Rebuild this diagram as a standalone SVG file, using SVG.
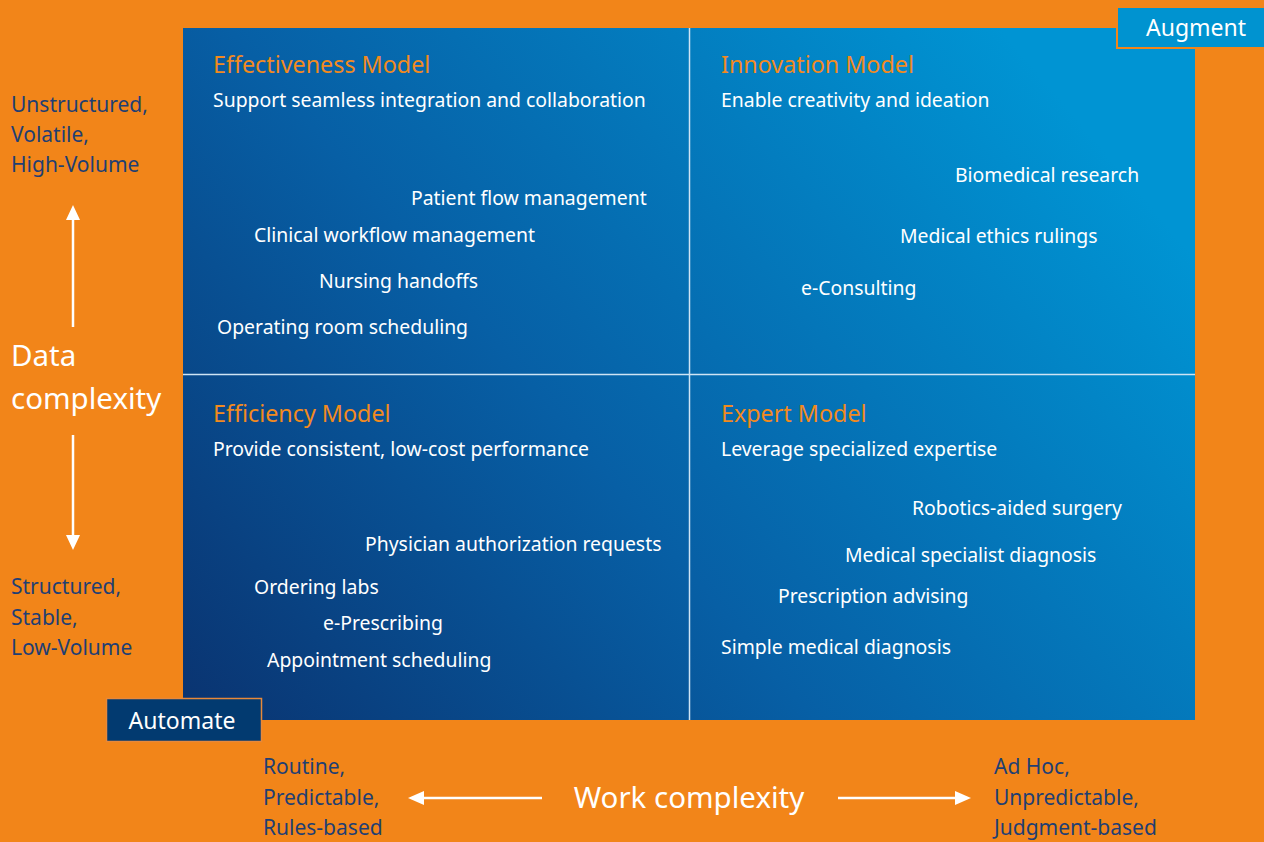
<svg xmlns="http://www.w3.org/2000/svg" width="1264" height="842" viewBox="0 0 1264 842">
<defs>
<linearGradient id="pg" gradientUnits="userSpaceOnUse" x1="183" y1="720" x2="1000" y2="28">
<stop offset="0" stop-color="#0a3370"/>
<stop offset="0.45" stop-color="#075fa5"/>
<stop offset="1" stop-color="#0094d3"/>
</linearGradient>
<style>
text{font-family:"Noto Sans","Liberation Sans",sans-serif}
.t{fill:#f28a1e;font-size:23.3px}
.s{fill:#ffffff;font-size:19.4px}
.i{fill:#ffffff;font-size:19.4px}
.n{fill:#1f3f73;font-size:21px}
.big{fill:#ffffff;font-size:29.5px}
.ar{stroke:#ffffff;stroke-width:2.5;fill:none}
.hd{fill:#ffffff}
</style>
</defs>
<rect width="1264" height="842" fill="#f28519"/>
<g id="panel">
<rect x="183" y="28" width="1012" height="692" fill="url(#pg)"/>
<line x1="689.5" y1="28" x2="689.5" y2="720" stroke="#cfe4f4" stroke-width="1.5"/>
<line x1="183" y1="374.5" x2="1195" y2="374.5" stroke="#cfe4f4" stroke-width="1.5"/>
</g>
<g id="effectiveness">
<text class="t" x="213" y="73">Effectiveness Model</text>
<text class="s" x="213" y="107">Support seamless integration and collaboration</text>
<text class="i" x="411" y="205">Patient flow management</text>
<text class="i" x="254" y="242">Clinical workflow management</text>
<text class="i" x="319" y="288">Nursing handoffs</text>
<text class="i" x="217" y="334">Operating room scheduling</text>
</g>
<g id="innovation">
<text class="t" x="721" y="73">Innovation Model</text>
<text class="s" x="721" y="107">Enable creativity and ideation</text>
<text class="i" x="955" y="182">Biomedical research</text>
<text class="i" x="900" y="243">Medical ethics rulings</text>
<text class="i" x="801" y="295">e-Consulting</text>
</g>
<g id="efficiency">
<text class="t" x="213" y="422">Efficiency Model</text>
<text class="s" x="213" y="456">Provide consistent, low-cost performance</text>
<text class="i" x="365" y="551">Physician authorization requests</text>
<text class="i" x="254" y="594">Ordering labs</text>
<text class="i" x="323" y="630">e-Prescribing</text>
<text class="i" x="267" y="667">Appointment scheduling</text>
</g>
<g id="expert">
<text class="t" x="721" y="422">Expert Model</text>
<text class="s" x="721" y="456">Leverage specialized expertise</text>
<text class="i" x="912" y="515">Robotics-aided surgery</text>
<text class="i" x="845" y="562">Medical specialist diagnosis</text>
<text class="i" x="778" y="603">Prescription advising</text>
<text class="i" x="721" y="654">Simple medical diagnosis</text>
</g>
<g id="augment">
<rect x="1117" y="7" width="150" height="41" fill="#0093d0" stroke="#f28519" stroke-width="2"/>
<text x="1196" y="36" text-anchor="middle" fill="#ffffff" style="font-size:23px">Augment</text>
</g>
<g id="automate">
<rect x="106.5" y="698.5" width="155" height="43" fill="#023a70" stroke="#e8893a" stroke-width="1.5"/>
<text x="182" y="729" text-anchor="middle" fill="#ffffff" style="font-size:23px">Automate</text>
</g>
<g id="data-axis">
<text class="n" x="11" y="112">Unstructured,</text>
<text class="n" x="11" y="142">Volatile,</text>
<text class="n" x="11" y="172">High-Volume</text>
<text class="big" x="11" y="366">Data</text>
<text class="big" x="11" y="409">complexity</text>
<text class="n" x="11" y="594">Structured,</text>
<text class="n" x="11" y="625">Stable,</text>
<text class="n" x="11" y="655">Low-Volume</text>
</g>
<g id="work-axis">
<text class="n" x="263" y="774">Routine,</text>
<text class="n" x="263" y="805">Predictable,</text>
<text class="n" x="263" y="835">Rules-based</text>
<text class="big" x="689" y="808" text-anchor="middle">Work complexity</text>
<text class="n" x="994" y="774">Ad Hoc,</text>
<text class="n" x="994" y="805">Unpredictable,</text>
<text class="n" x="994" y="835">Judgment-based</text>
</g>
<g id="connectors">
<line class="ar" x1="73" y1="327" x2="73" y2="218"/>
<path class="hd" d="M66,220 L73,205 L80,220 z"/>
<line class="ar" x1="73" y1="435" x2="73" y2="537"/>
<path class="hd" d="M66,535 L73,550 L80,535 z"/>
<line class="ar" x1="542" y1="798" x2="422" y2="798"/>
<path class="hd" d="M424,791 L408,798 L424,805 z"/>
<line class="ar" x1="838" y1="798" x2="957" y2="798"/>
<path class="hd" d="M955,791 L971,798 L955,805 z"/>
</g>
</svg>
